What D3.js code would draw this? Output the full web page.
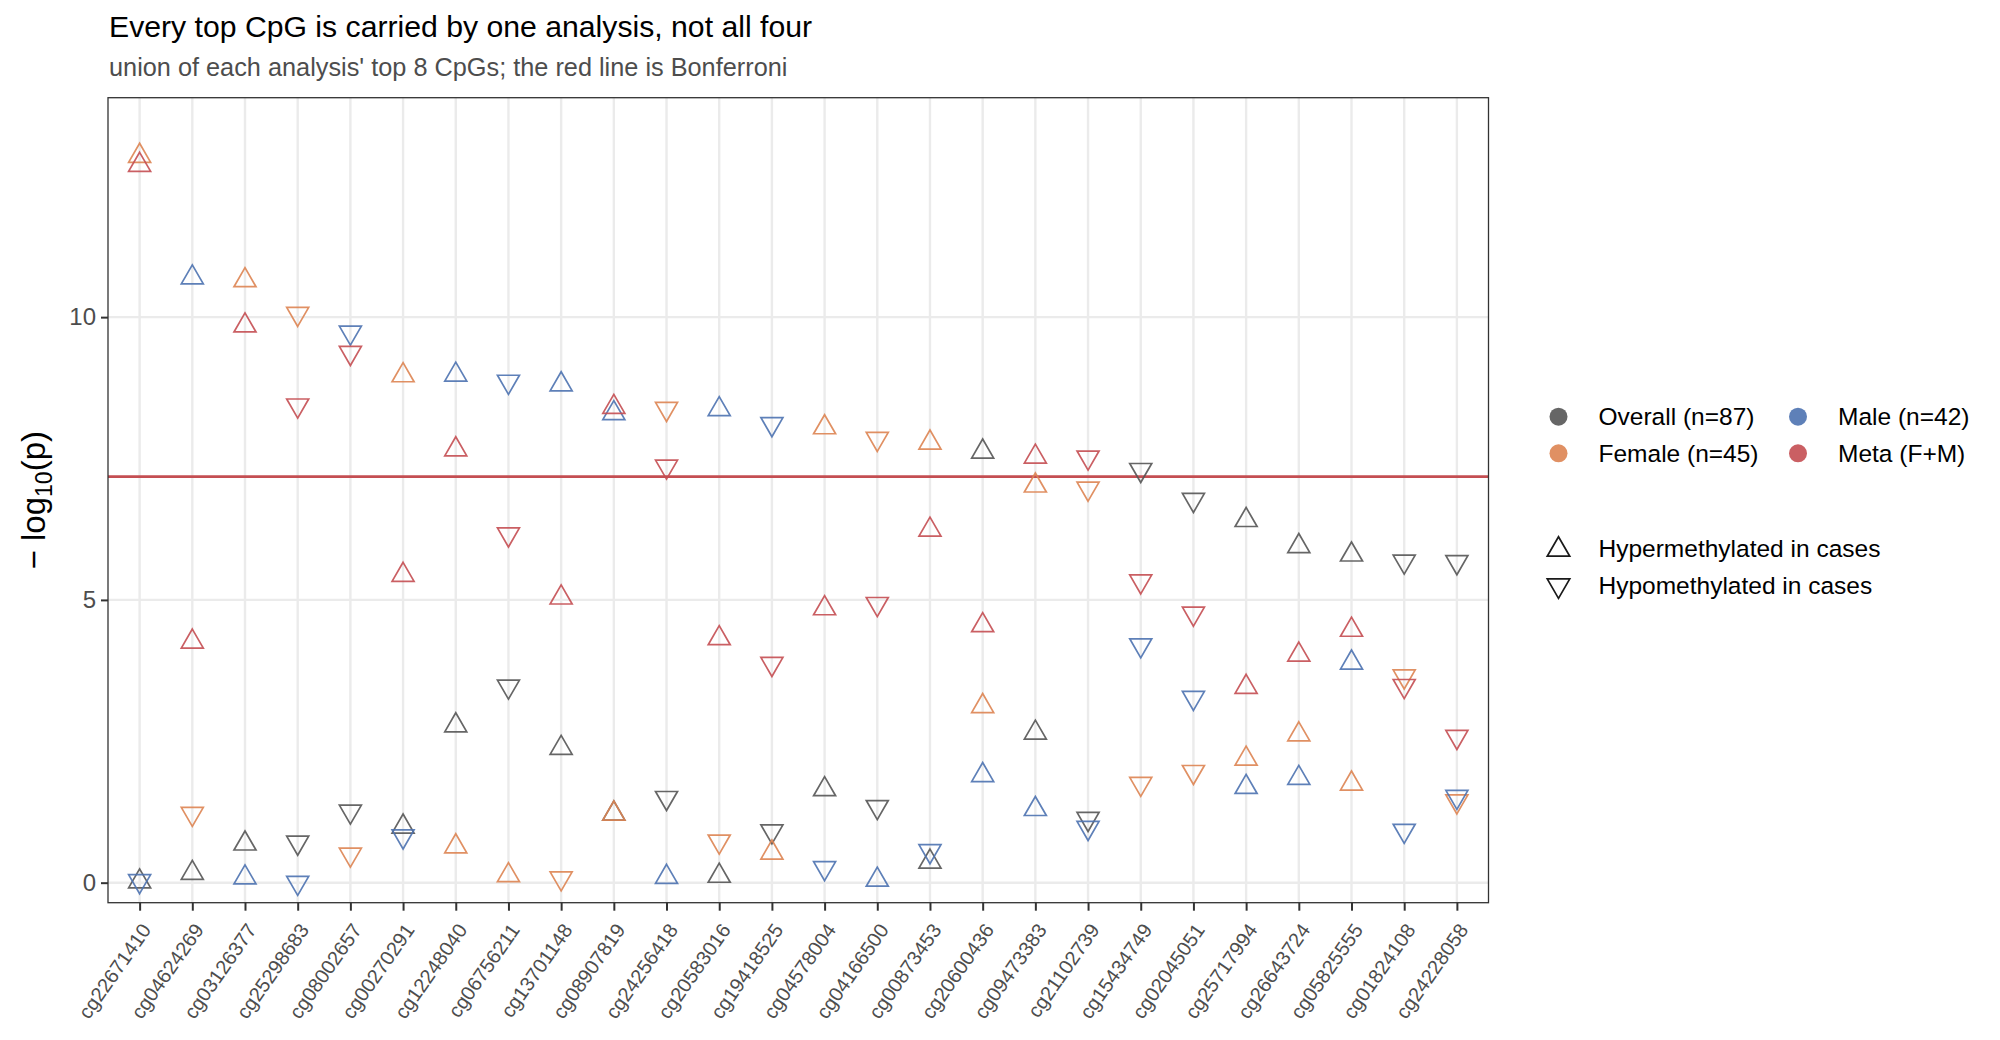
<!DOCTYPE html>
<html>
  <head>
    <script src="https://d3js.org/d3.v7.min.js"></script>
  </head>
  <body>
    <svg id="viz" width="2000" height="1040"></svg>
  </body>
  <script>
    // CpGs in plotting order
    const cpgs = [
      "cg22671410", "cg04624269", "cg03126377", "cg25298683", "cg08002657",
      "cg00270291", "cg12248040", "cg06756211", "cg13701148", "cg08907819",
      "cg24256418", "cg20583016", "cg19418525", "cg04578004", "cg04166500",
      "cg00873453", "cg20600436", "cg09473383", "cg21102739", "cg15434749",
      "cg02045051", "cg25717994", "cg26643724", "cg05825555", "cg01824108",
      "cg24228058"
    ];

    // -log10(p) per analysis
    const overall = [0.02, 0.17, 0.69, 0.71, 1.26, 0.99, 2.78, 3.47, 2.38, 1.22,
      1.50, 0.12, 0.91, 1.65, 1.34, 0.37, 7.62, 2.65, 1.13, 7.30, 6.77, 6.41,
      5.95, 5.80, 5.68, 5.67];
    const female = [12.85, 1.22, 10.65, 10.06, 0.50, 8.97, 0.64, 0.13, 0.08, 1.22,
      8.38, 0.73, 0.53, 8.05, 7.85, 7.78, 3.12, 7.02, 6.97, 1.75, 1.96, 2.19,
      2.62, 1.75, 3.65, 1.44];
    const male = [0.03, 10.70, 0.09, 0.0, 9.73, 0.82, 8.98, 8.86, 8.81, 8.30,
      0.10, 8.37, 8.11, 0.26, 0.05, 0.56, 1.90, 1.30, 0.97, 4.20, 3.27, 1.69,
      1.85, 3.89, 0.92, 1.52];
    const meta = [12.69, 4.26, 9.85, 8.44, 9.37, 5.44, 7.66, 6.16, 5.04, 8.41,
      7.36, 4.32, 3.87, 4.85, 4.93, 6.24, 4.55, 7.53, 7.52, 5.33, 4.76, 3.46,
      4.03, 4.47, 3.48, 2.58];

    // direction of effect: "up" = hypermethylated, "down" = hypomethylated
    const overallDir = ["up", "up", "up", "down", "down", "up", "up", "down", "up", "up",
      "down", "up", "down", "up", "down", "up", "up", "up", "down", "down", "down", "up",
      "up", "up", "down", "down"];
    const femaleDir = ["up", "down", "up", "down", "down", "up", "up", "up", "down", "up",
      "down", "down", "up", "up", "down", "up", "up", "up", "down", "down", "down", "up",
      "up", "up", "down", "down"];
    const maleDir = ["down", "up", "up", "down", "down", "down", "up", "down", "up", "up",
      "up", "up", "down", "down", "up", "down", "up", "up", "down", "down", "down", "up",
      "up", "up", "down", "down"];
    const metaDir = ["up", "up", "up", "down", "down", "up", "up", "down", "up", "up",
      "down", "up", "down", "up", "down", "up", "up", "up", "down", "down", "down", "up",
      "up", "up", "down", "down"];

    const analyses = ["Overall (n=87)", "Female (n=45)", "Male (n=42)", "Meta (F+M)"];
    const colors = ["#555555", "#DD8452", "#4C72B0", "#C44E52"];
    const directionLabels = ["Hypermethylated in cases", "Hypomethylated in cases"];
    const bonferroni = 7.18;
    const yTicks = [0, 5, 10];

    const font = "'Liberation Sans', Arial, sans-serif";

    function trianglePath(dir, r) {
      const w = 0.866 * r;
      return dir === "up"
        ? `M0,${-r}L${w},${r / 2}L${-w},${r / 2}Z`
        : `M0,${r}L${w},${-r / 2}L${-w},${-r / 2}Z`;
    }

    function draw() {
      const svg = d3.select("svg#viz").style("font-family", font);
      const left = 108, right = 1488.5, top = 97.7, bottom = 902.7;

      svg.append("rect").attr("width", 2000).attr("height", 1040).attr("fill", "white");

      const x = d3.scalePoint().domain(cpgs).range([left, right]).padding(0.6);
      const y = d3.scaleLinear().domain([-0.354, 13.88]).range([bottom, top]);
      const color = d3.scaleOrdinal().domain(analyses).range(colors);

      // grid
      const grid = svg.append("g");
      grid.selectAll("line.gy").data(yTicks).join("line")
        .attr("x1", left).attr("x2", right)
        .attr("y1", (d) => y(d)).attr("y2", (d) => y(d))
        .attr("stroke", "#ebebeb").attr("stroke-width", 2.4);
      grid.selectAll("line.gx").data(cpgs).join("line")
        .attr("x1", (d) => x(d)).attr("x2", (d) => x(d))
        .attr("y1", top).attr("y2", bottom)
        .attr("stroke", "#ebebeb").attr("stroke-width", 2.4);

      // bonferroni line
      svg.append("line")
        .attr("x1", left).attr("x2", right)
        .attr("y1", y(bonferroni)).attr("y2", y(bonferroni))
        .attr("stroke", "#C44E52").attr("stroke-width", 2.6);

      // points
      const series = [overall, female, male, meta];
      const dirs = [overallDir, femaleDir, maleDir, metaDir];
      const points = [];
      series.forEach((vals, i) => {
        vals.forEach((v, j) => {
          points.push({ cpg: cpgs[j], value: v, dir: dirs[i][j], analysis: analyses[i] });
        });
      });

      svg.append("g").selectAll("path").data(points).join("path")
        .attr("transform", (d) => `translate(${x(d.cpg)},${y(d.value)})`)
        .attr("d", (d) => trianglePath(d.dir, 12.7))
        .attr("fill", "none")
        .attr("stroke", (d) => color(d.analysis))
        .attr("stroke-opacity", 0.9)
        .attr("stroke-width", 1.7);

      // panel border
      svg.append("rect")
        .attr("x", left).attr("y", top)
        .attr("width", right - left).attr("height", bottom - top)
        .attr("fill", "none").attr("stroke", "#333333").attr("stroke-width", 1.3);

      // axes
      const yAxis = svg.append("g")
        .attr("transform", `translate(${left},0)`)
        .call(d3.axisLeft(y).tickValues(yTicks).tickSize(7).tickPadding(5));
      yAxis.select(".domain").remove();
      yAxis.selectAll(".tick line").attr("stroke", "#333333").attr("stroke-width", 2);
      yAxis.selectAll(".tick text")
        .attr("fill", "#4d4d4d").style("font-size", "24px").style("font-family", font);

      const xAxis = svg.append("g")
        .attr("transform", `translate(0,${bottom})`)
        .call(d3.axisBottom(x).tickSize(8).tickPadding(0));
      xAxis.select(".domain").remove();
      xAxis.selectAll(".tick line").attr("stroke", "#333333").attr("stroke-width", 2);
      xAxis.selectAll(".tick text")
        .attr("fill", "#4d4d4d")
        .style("font-size", "20px").style("font-family", font)
        .attr("text-anchor", "end")
        .attr("dy", "0.72em")
        .attr("y", 0)
        .attr("transform", "translate(0,19) rotate(-55)");

      // titles
      svg.append("text").attr("x", 109).attr("y", 36.5)
        .attr("font-size", 30.2).attr("fill", "#000")
        .text("Every top CpG is carried by one analysis, not all four");
      svg.append("text").attr("x", 109).attr("y", 76)
        .attr("font-size", 25.3).attr("fill", "#4d4d4d")
        .text("union of each analysis' top 8 CpGs; the red line is Bonferroni");

      // y axis title: − log10(p)
      const yt = svg.append("text")
        .attr("transform", `translate(45,${(top + bottom) / 2}) rotate(-90)`)
        .attr("text-anchor", "middle").attr("font-size", 33).attr("fill", "#000");
      yt.append("tspan").text("\u2212 log");
      yt.append("tspan").attr("font-size", 23).attr("dy", 7).text("10");
      yt.append("tspan").attr("dy", -7).text("(p)");

      // colour legend
      const leg = svg.append("g").style("font-size", "24.5px");
      const legPos = [
        { cx: 1558.5, cy: 416.7 }, { cx: 1558.5, cy: 453.3 },
        { cx: 1798, cy: 416.7 }, { cx: 1798, cy: 453.3 }
      ];
      analyses.forEach((a, i) => {
        leg.append("circle").attr("cx", legPos[i].cx).attr("cy", legPos[i].cy)
          .attr("r", 9).attr("fill", color(a)).attr("fill-opacity", 0.9);
        leg.append("text").attr("x", legPos[i].cx + 40).attr("y", legPos[i].cy)
          .attr("dominant-baseline", "central").attr("fill", "#000").text(a);
      });

      // shape legend
      const shp = svg.append("g").style("font-size", "24.5px");
      ["up", "down"].forEach((dir, i) => {
        const cy = 548.7 + i * 36.6;
        shp.append("path")
          .attr("transform", `translate(1558.5,${cy + (dir === "up" ? 1 : 0)})`)
          .attr("d", trianglePath(dir, 13))
          .attr("fill", "none").attr("stroke", "#1a1a1a").attr("stroke-width", 1.7);
        shp.append("text").attr("x", 1598.5).attr("y", cy)
          .attr("dominant-baseline", "central").attr("fill", "#000")
          .text(directionLabels[i]);
      });
    }

    draw();
  </script>
  <style>
    body {
      margin: 0px;
    }
  </style>
</html>
